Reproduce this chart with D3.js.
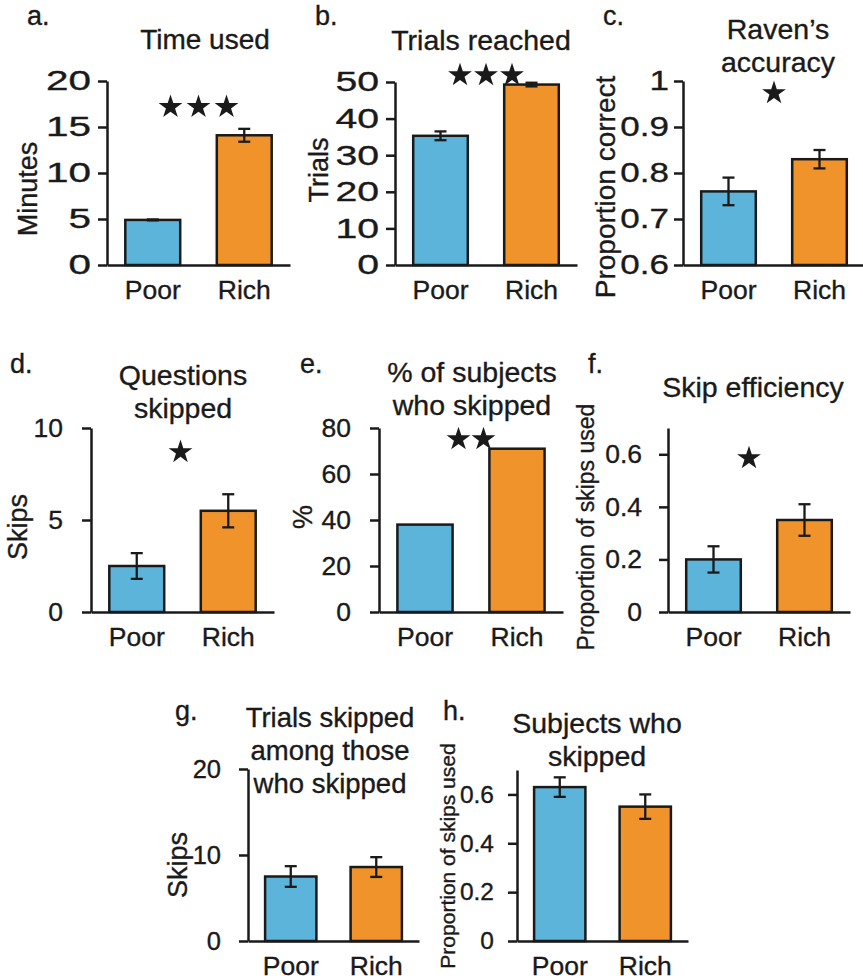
<!DOCTYPE html>
<html>
<head>
<meta charset="utf-8">
<script src="https://cdn.jsdelivr.net/npm/d3@7"></script>
<style>
  html, body { margin: 0; padding: 0; background: #fff; }
  svg { display: block; font-family: "Liberation Sans", Arial, sans-serif; }
  text { fill: #1a1a1a; stroke: #1a1a1a; stroke-width: 0.35px; }
</style>
</head>
<body>
<svg id="chart" width="863" height="978"></svg>
<script>
// values
const groups = ["Poor", "Rich"];

const timeUsed = [4.9, 14.1];
const timeUsedErr = [0.05, 0.7];
const trialsReached = [35.3, 49.3];
const trialsReachedErr = [1.2, 0.5];
const ravenAccuracy = [0.76, 0.83];
const ravenAccuracyErr = [0.03, 0.02];
const questionsSkipped = [2.5, 5.5];
const questionsSkippedErr = [0.7, 0.9];
const pctWhoSkipped = [38, 71];
const skipEfficiency = [0.2, 0.35];
const skipEfficiencyErr = [0.05, 0.06];
const trialsSkippedAmong = [7.5, 8.6];
const trialsSkippedAmongErr = [1.2, 1.15];
const subjectsWhoSkipped = [0.63, 0.55];
const subjectsWhoSkippedErr = [0.04, 0.05];

const ticksA = [0, 5, 10, 15, 20];
const ticksB = [0, 10, 20, 30, 40, 50];
const ticksC = [0.6, 0.7, 0.8, 0.9, 1];
const ticksD = [0, 5, 10];
const ticksE = [0, 20, 40, 60, 80];
const ticksF = [0, 0.2, 0.4, 0.6];
const ticksG = [0, 10, 20];
const ticksH = [0, 0.2, 0.4, 0.6];

// significance stars: count and height (in data units)
const starCounts = [3, 3, 1, 1, 2, 1, 0, 0];
const starLevels = [17.4, 52.4, 0.978, 8.8, 76, 0.593, 0, 0];

const colors = ["#5db4db", "#f0932b"];
const ink = "#1a1a1a";

const panels = [
  { letter: "a.", lx: 27, ly: 25, title: ["Time used"], tx: 205, ty: 49, titleSize: 28,
    ylab: "Minutes", yx: 37, yy: 189, ylabSize: 27,
    values: timeUsed, errs: timeUsedErr, domain: [0, 20], ticks: ticksA,
    x0: 107, x1: 290, top: 81, zero: 265, tickPad: 7, tickSize: 27, tickStretch: 1.5, starDx: 0, starGap: 28 },
  { letter: "b.", lx: 315, ly: 25, title: ["Trials reached"], tx: 481, ty: 50, titleSize: 28.5,
    ylab: "Trials", yx: 328, yy: 170, ylabSize: 27,
    values: trialsReached, errs: trialsReachedErr, domain: [0, 50], ticks: ticksB,
    x0: 395, x1: 577, top: 82, zero: 265, tickPad: 7, tickSize: 28, tickStretch: 1.4, starDx: 0, starGap: 26 },
  { letter: "c.", lx: 603, ly: 25, title: ["Raven\u2019s", "accuracy"], tx: 778, ty: 39, titleSize: 28.5,
    ylab: "Proportion correct", yx: 615, yy: 187, ylabSize: 28,
    values: ravenAccuracy, errs: ravenAccuracyErr, domain: [0.6, 1], ticks: ticksC,
    x0: 683, x1: 865, top: 81, zero: 265, tickPad: 5, tickSize: 28, tickStretch: 1.25, starDx: 0, starGap: 26 },
  { letter: "d.", lx: 10, ly: 373, title: ["Questions", "skipped"], tx: 183, ty: 385, titleSize: 28.5,
    ylab: "Skips", yx: 27, yy: 527, ylabSize: 27,
    values: questionsSkipped, errs: questionsSkippedErr, domain: [0, 10], ticks: ticksD,
    x0: 91, x1: 274, top: 428, zero: 612, tickPad: 19, tickSize: 26.5, tickStretch: 1, starDx: -2, starGap: 26 },
  { letter: "e.", lx: 300, ly: 373, title: ["% of subjects", "who skipped"], tx: 472, ty: 382, titleSize: 28.5,
    ylab: "%", yx: 312, yy: 517, ylabSize: 27,
    values: pctWhoSkipped, errs: null, domain: [0, 80], ticks: ticksE,
    x0: 379, x1: 563, top: 428, zero: 612, tickPad: 19, tickSize: 26.5, tickStretch: 1, starDx: 0, starGap: 25 },
  { letter: "f.", lx: 588, ly: 373, title: ["Skip efficiency"], tx: 753, ty: 397, titleSize: 28.5,
    ylab: "Proportion of skips used", yx: 594, yy: 527, ylabSize: 23,
    values: skipEfficiency, errs: skipEfficiencyErr, domain: [0, 0.7], ticks: ticksF,
    x0: 668, x1: 850, top: 428, zero: 612, tickPad: 17, tickSize: 26.5, tickStretch: 1, starDx: -10, starGap: 26 },
  { letter: "g.", lx: 175, ly: 720, title: ["Trials skipped", "among those", "who skipped"], tx: 330, ty: 727, titleSize: 27.5,
    ylab: "Skips", yx: 187, yy: 865, ylabSize: 27,
    values: trialsSkippedAmong, errs: trialsSkippedAmongErr, domain: [0, 20], ticks: ticksG,
    x0: 248, x1: 419, top: 769, zero: 941, tickPad: 18, tickSize: 25.5, tickStretch: 1, starDx: 0, starGap: 26 },
  { letter: "h.", lx: 443, ly: 720, title: ["Subjects who", "skipped"], tx: 597, ty: 733, titleSize: 28.5,
    ylab: "Proportion of skips used", yx: 455, yy: 856, ylabSize: 21,
    values: subjectsWhoSkipped, errs: subjectsWhoSkippedErr, domain: [0, 0.7], ticks: ticksH,
    x0: 517, x1: 688, top: 770, zero: 941, tickPad: 14, tickSize: 24.5, tickStretch: 1, starDx: 0, starGap: 26 },
];

const svg = d3.select("#chart");
const fmt = d3.format("~g");
const star = d3.symbol(d3.symbolStar, (12.5 * 12.5) / 0.8908130915292852);

panels.forEach((p, i) => {
  const g = svg.append("g");

  const x = d3.scaleBand().domain(groups).range([p.x0, p.x1]).paddingInner(0.4).paddingOuter(0.2);
  const y = d3.scaleLinear().domain(p.domain).range([p.zero, p.top]);

  // panel letter and title
  g.append("text").attr("x", p.lx).attr("y", p.ly).attr("font-size", 27).text(p.letter);
  g.append("text")
    .attr("text-anchor", "middle")
    .attr("font-size", p.titleSize)
    .selectAll("tspan")
    .data(p.title)
    .join("tspan")
    .attr("x", p.tx)
    .attr("y", (_, k) => p.ty + k * 33)
    .text((d) => d);

  // bars
  g.selectAll("rect")
    .data(p.values)
    .join("rect")
    .attr("x", (_, k) => x(groups[k]))
    .attr("y", (d) => y(d))
    .attr("width", x.bandwidth())
    .attr("height", (d) => y(p.domain[0]) - y(d))
    .attr("fill", (_, k) => colors[k])
    .attr("stroke", ink)
    .attr("stroke-width", 2.5);

  // error bars
  if (p.errs) {
    const eb = g.selectAll(".err")
      .data(p.values.map((v, k) => ({ v, e: p.errs[k], cx: x(groups[k]) + x.bandwidth() / 2 })))
      .join("g")
      .attr("class", "err")
      .attr("stroke", ink)
      .attr("stroke-width", 2.3);
    eb.append("line").attr("x1", (d) => d.cx).attr("x2", (d) => d.cx)
      .attr("y1", (d) => y(d.v - d.e)).attr("y2", (d) => y(d.v + d.e));
    eb.append("line").attr("x1", (d) => d.cx - 6).attr("x2", (d) => d.cx + 6)
      .attr("y1", (d) => y(d.v - d.e)).attr("y2", (d) => y(d.v - d.e));
    eb.append("line").attr("x1", (d) => d.cx - 6).attr("x2", (d) => d.cx + 6)
      .attr("y1", (d) => y(d.v + d.e)).attr("y2", (d) => y(d.v + d.e));
  }

  // y axis
  const ya = g.append("g")
    .attr("transform", `translate(${p.x0},0)`)
    .call(d3.axisLeft(y).tickValues(p.ticks).tickFormat(fmt).tickSize(9).tickSizeOuter(0).tickPadding(p.tickPad));
  ya.selectAll("path, line").attr("stroke", ink).attr("stroke-width", 2.5);
  ya.selectAll("text")
    .attr("font-size", p.tickSize)
    .attr("fill", ink)
    .attr("font-family", '"Liberation Sans", Arial, sans-serif')
    .each(function () {
      const t = d3.select(this);
      const tx = +t.attr("x");
      t.attr("x", 0).attr("transform", `translate(${tx},0) scale(${p.tickStretch},1)`);
    });

  // x axis with category labels
  const xa = g.append("g")
    .attr("transform", `translate(0,${p.zero})`)
    .call(d3.axisBottom(x).tickSize(0).tickSizeOuter(0).tickPadding(15));
  xa.select("path").attr("stroke", ink).attr("stroke-width", 2.5);
  xa.selectAll("text").attr("font-size", 26.5).attr("fill", ink)
    .attr("font-family", '"Liberation Sans", Arial, sans-serif');

  // y label
  g.append("text")
    .attr("transform", `translate(${p.yx},${p.yy}) rotate(-90)`)
    .attr("text-anchor", "middle")
    .attr("font-size", p.ylabSize)
    .text(p.ylab);

  // stars
  const n = starCounts[i];
  const mid = (x(groups[0]) + x(groups[1]) + x.bandwidth()) / 2 + p.starDx;
  g.selectAll(".star")
    .data(d3.range(n))
    .join("path")
    .attr("class", "star")
    .attr("d", star)
    .attr("fill", ink)
    .attr("transform", (k) => `translate(${mid + (k - (n - 1) / 2) * p.starGap},${y(starLevels[i]) + 2})`);
});
</script>
</body>
</html>
